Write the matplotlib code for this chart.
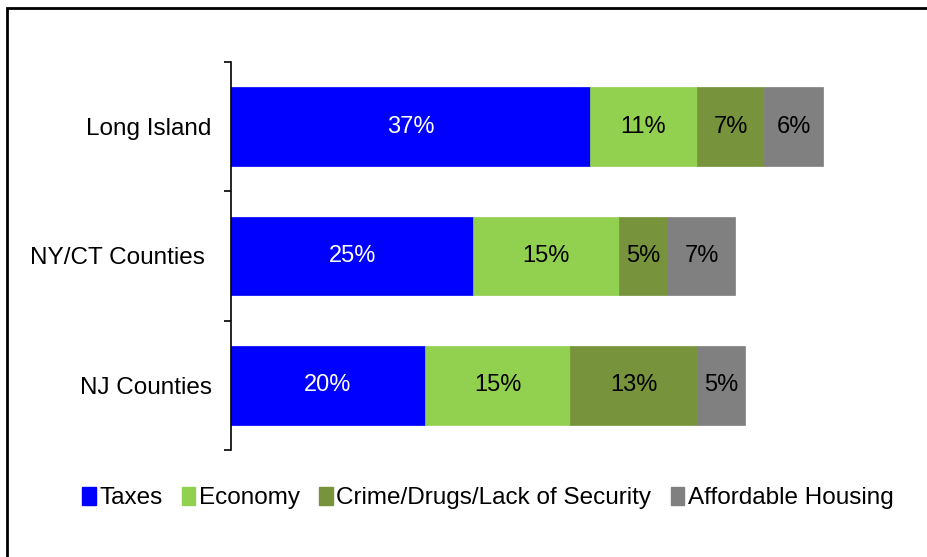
import matplotlib.pyplot as plt
from matplotlib.patches import Rectangle, Patch

plt.rcParams['font.family'] = ['Liberation Sans', 'DejaVu Sans']

regions = ["Long Island", "NY/CT Counties ", "NJ Counties"]
issues = ["Taxes", "Economy", "Crime/Drugs/Lack of Security", "Affordable Housing"]
taxes = [37, 25, 20]
economy = [11, 15, 15]
crime = [7, 5, 13]
housing = [6, 7, 5]
series = [taxes, economy, crime, housing]
colors = ["#0000FF", "#92D050", "#77933C", "#808080"]
text_colors = ["white", "black", "black", "black"]

fig = plt.figure(figsize=(9.28, 5.57), dpi=100)
W, H = 928, 557
ax = fig.add_axes([231 / W, 1 - 450 / H, (910 - 231) / W, (450 - 62) / H])

# outer frame, running off the right and bottom edges
fig.patches.append(Rectangle((7 / W, -0.05), 1.2, 1 - 8 / H + 0.05, transform=fig.transFigure,
                             fill=False, edgecolor="black", linewidth=2))

ypos = [2, 1, 0]
left = [0, 0, 0]
for vals, col, tc in zip(series, colors, text_colors):
    ax.barh(ypos, vals, left=left, height=0.61, color=col, edgecolor=col, linewidth=0.5)
    for y, l, v in zip(ypos, left, vals):
        ax.text(l + v / 2, y, "%d%%" % v, ha="center", va="center", color=tc, fontsize=17)
    left = [a + b for a, b in zip(left, vals)]

ax.set_xlim(0, 70)
ax.set_ylim(-0.5, 2.5)
ax.set_yticks(ypos)
ax.set_yticklabels(regions, fontsize=17.5)
ax.tick_params(axis="y", length=0, pad=14)
ax.set_yticks([-0.5, 0.5, 1.5, 2.5], minor=True)
ax.tick_params(axis="y", which="minor", length=5, width=1.2, direction="out")
ax.set_xticks([])
for s in ["top", "right", "bottom"]:
    ax.spines[s].set_visible(False)
ax.spines["left"].set_linewidth(1.2)

handles = [Patch(facecolor=c, edgecolor=c) for c in colors]
fig.legend(handles, issues, loc="center", bbox_to_anchor=(488 / W, 1 - 498 / H), ncol=4,
           frameon=False, fontsize=17.5, handlelength=0.55, handleheight=0.75,
           handletextpad=0.15, columnspacing=0.8)

plt.savefig("out.png", dpi=100)
